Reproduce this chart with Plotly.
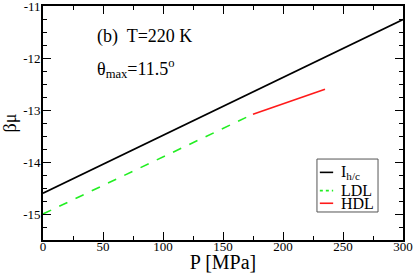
import plotly.graph_objects as go

# data
P_ih = [0, 300]
mu_ih = [-14.6, -11.26]
P_ldl = [0, 175]
mu_ldl = [-15.0, -13.08]
P_hdl = [175, 235]
mu_hdl = [-13.08, -12.6]

x_ticks = [0, 50, 100, 150, 200, 250, 300]
x_labels = ["0", "50", "100", "150", "200", "250", "300"]
y_ticks = [-15, -14, -13, -12, -11]
y_labels = ["-15", "-14", "-13", "-12", "-11"]

names = ["I<sub>h/c</sub>", "LDL", "HDL"]
colors = ["black", "#22ee22", "#ff1a1a"]
dashes = ["solid", "dash", "solid"]

FONT = "Liberation Serif"

fig = go.Figure()
for xs, ys, nm, c, d in zip([P_ih, P_ldl, P_hdl], [mu_ih, mu_ldl, mu_hdl], names, colors, dashes):
    fig.add_trace(go.Scatter(x=xs, y=ys, mode="lines", name=nm,
                             line=dict(color=c, width=1.6, dash=d), showlegend=False))

axis_common = dict(showgrid=False, zeroline=False, showline=True, linecolor="black",
                   linewidth=1.6, mirror="allticks", ticks="inside", ticklen=8,
                   tickwidth=1.2, tickcolor="black", automargin=False,
                   ticklabeloverflow="allow",
                   tickfont=dict(family=FONT, size=13, color="black"))

fig.update_xaxes(range=[0, 300], tickvals=x_ticks, ticktext=x_labels, ticklabelstandoff=-6,
                 minor=dict(dtick=25, ticks="inside", ticklen=4, tickcolor="black", tickwidth=1),
                 title=dict(text="P [MPa]", font=dict(family=FONT, size=20, color="black")),
                 **axis_common)
fig.update_yaxes(range=[-15.5, -11], tickvals=y_ticks, ticktext=y_labels, ticklabelstandoff=-2,
                 minor=dict(dtick=0.25, ticks="inside", ticklen=4, tickcolor="black", tickwidth=1),
                 title=dict(text="βμ", font=dict(family=FONT, size=18, color="black")),
                 **axis_common)

fig.add_annotation(xref="paper", yref="paper", x=0.145, y=0.87, xanchor="left", yanchor="middle",
                   text="(b)&nbsp; T=220 K", showarrow=False,
                   font=dict(family=FONT, size=18, color="black"))
fig.add_annotation(xref="paper", yref="paper", x=0.145, y=0.735, xanchor="left", yanchor="middle",
                   text="θ<sub>max</sub>=11.5<sup>o</sup>", showarrow=False,
                   font=dict(family=FONT, size=18, color="black"))

# custom legend
fig.add_shape(type="rect", xref="paper", yref="paper", x0=0.761, x1=0.9306, y0=0.1197, y1=0.346,
              line=dict(color="#555555", width=1), fillcolor="white", layer="above")
row_y = [0.289, 0.211, 0.157]
for nm, c, d, yy in zip(names, colors, dashes, row_y):
    fig.add_shape(type="line", xref="paper", yref="paper", x0=0.769, x1=0.806, y0=yy, y1=yy,
                  line=dict(color=c, width=1.6, dash="dot" if d == "dash" else "solid"), layer="above")
    fig.add_annotation(xref="paper", yref="paper", x=0.822, y=yy, xanchor="left", yanchor="middle",
                       text=nm, showarrow=False, font=dict(family=FONT, size=16, color="black"))

fig.update_layout(
    width=415, height=273,
    margin=dict(l=43, r=12, t=6, b=33),
    plot_bgcolor="white", paper_bgcolor="white",
    font=dict(family=FONT, color="black"),
    showlegend=False,
)

fig.write_html("out.html", config={"displayModeBar": False},
               post_script="document.body.style.margin='0';")
